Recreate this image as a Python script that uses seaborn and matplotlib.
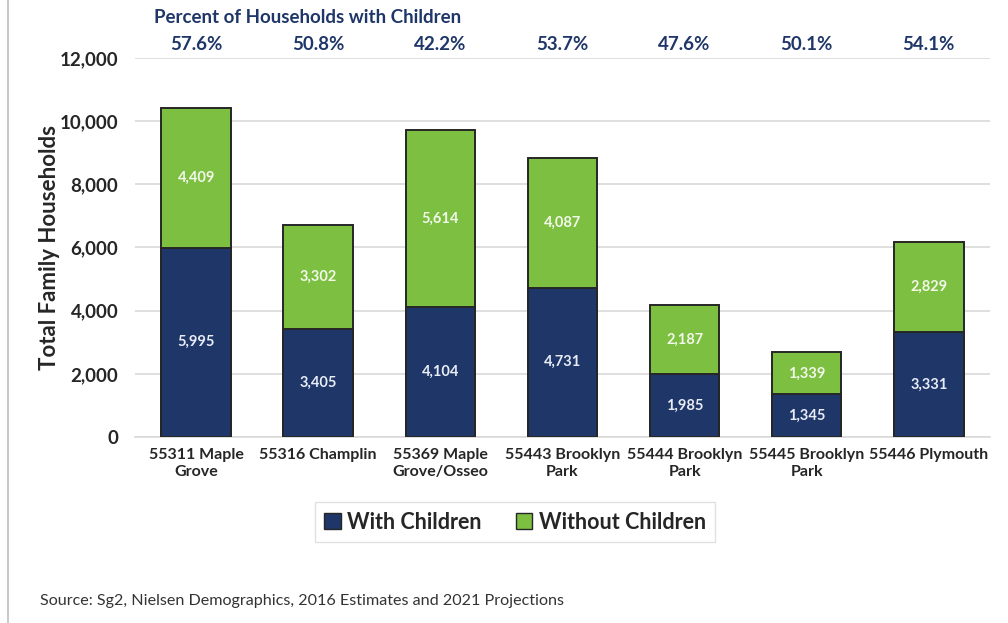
import matplotlib
matplotlib.use("Agg")
import matplotlib.pyplot as plt
import seaborn as sns
import pandas as pd
from matplotlib.patches import Patch

zips = ["55311 Maple\nGrove", "55316 Champlin", "55369 Maple\nGrove/Osseo",
        "55443 Brooklyn\nPark", "55444 Brooklyn\nPark", "55445 Brooklyn\nPark",
        "55446 Plymouth"]
with_children = [5995, 3405, 4104, 4731, 1985, 1345, 3331]
without_children = [4409, 3302, 5614, 4087, 2187, 1339, 2829]
pct_with_children = ["57.6%", "50.8%", "42.2%", "53.7%", "47.6%", "50.1%", "54.1%"]

NAVY = "#1f3669"
GREEN = "#7cbf41"
TITLE_BLUE = "#1f3669"

df = pd.DataFrame({"zip": zips, "with": with_children, "without": without_children})
df["total"] = df["with"] + df["without"]

sns.set_style("white")
plt.rcParams["font.family"] = ["Lato", "DejaVu Sans"]

fig = plt.figure(figsize=(10.08, 6.23), dpi=100)
ax = fig.add_axes([0.134, 0.2986, 0.848, 0.6084])

# totals drawn first in green, the navy "with children" part on top
sns.barplot(data=df, x="zip", y="total", color=GREEN, width=0.57,
            edgecolor="#262626", linewidth=1.4, saturation=1, ax=ax, zorder=2)
sns.barplot(data=df, x="zip", y="with", color=NAVY, width=0.57,
            edgecolor="#262626", linewidth=1.4, saturation=1, ax=ax, zorder=3)

for i, row in df.iterrows():
    ax.text(i, row["with"] / 2, f"{row['with']:,}", ha="center", va="center",
            color="#e8ecf5", fontsize=10.5, fontweight="bold", zorder=4)
    ax.text(i, row["with"] + row["without"] / 2, f"{row['without']:,}",
            ha="center", va="center", color="#f2f8ea", fontsize=10.5,
            fontweight="bold", zorder=4)
    ax.text(i, 12000 + 150, pct_with_children[i], ha="center", va="bottom",
            color=TITLE_BLUE, fontsize=13.5, fontweight="bold", clip_on=False)

ax.set_ylim(0, 12000)
ax.set_xlim(-0.5, 6.5)
ax.set_yticks(range(0, 12001, 2000))
ax.set_yticklabels([f"{v:,}" for v in range(0, 12001, 2000)],
                   fontsize=13.5, fontweight="bold")
ax.set_xticks(range(len(zips)))
ax.set_xticklabels(zips, fontsize=11.5, fontweight="bold", linespacing=1.3)
ax.tick_params(axis="y", length=0, pad=12)
ax.tick_params(axis="x", length=0, pad=8)
ax.set_xlabel("")
ax.set_ylabel("Total Family Households", fontsize=16, fontweight="bold")
ax.yaxis.set_label_coords(-0.088, 0.5)
ax.grid(axis="y", color="#d9d9d9", linewidth=1.2, zorder=0)
ax.set_axisbelow(True)
for s in ["top", "right", "left"]:
    ax.spines[s].set_visible(False)
ax.spines["bottom"].set_color("#d9d9d9")
ax.spines["bottom"].set_linewidth(1.2)

fig.text(0.305, 0.972, "Percent of Households with Children", ha="center",
         va="center", color=TITLE_BLUE, fontsize=13.5, fontweight="bold")

handles = [Patch(facecolor=NAVY, edgecolor="#262626", label="With Children"),
           Patch(facecolor=GREEN, edgecolor="#262626", label="Without Children")]
leg = fig.legend(handles=handles, loc="center", bbox_to_anchor=(0.511, 0.162),
                 ncol=2, frameon=True, fancybox=False,
                 prop={"weight": "bold", "size": 15.5}, handlelength=0.75,
                 handleheight=0.75, handletextpad=0.3, columnspacing=1.6,
                 borderpad=0.45)
leg.get_frame().set_edgecolor("#d9d9d9")
leg.get_frame().set_linewidth(1.0)

fig.text(0.04, 0.036, "Source: Sg2, Nielsen Demographics, 2016 Estimates and 2021 Projections",
         ha="left", va="center", fontsize=11.6, color="#333333")

# thin border on the left edge of the slide
fig.add_artist(plt.Line2D([0.008, 0.008], [0, 1], color="#bfbfbf", linewidth=1.2))

fig.savefig("out.png", dpi=100)
